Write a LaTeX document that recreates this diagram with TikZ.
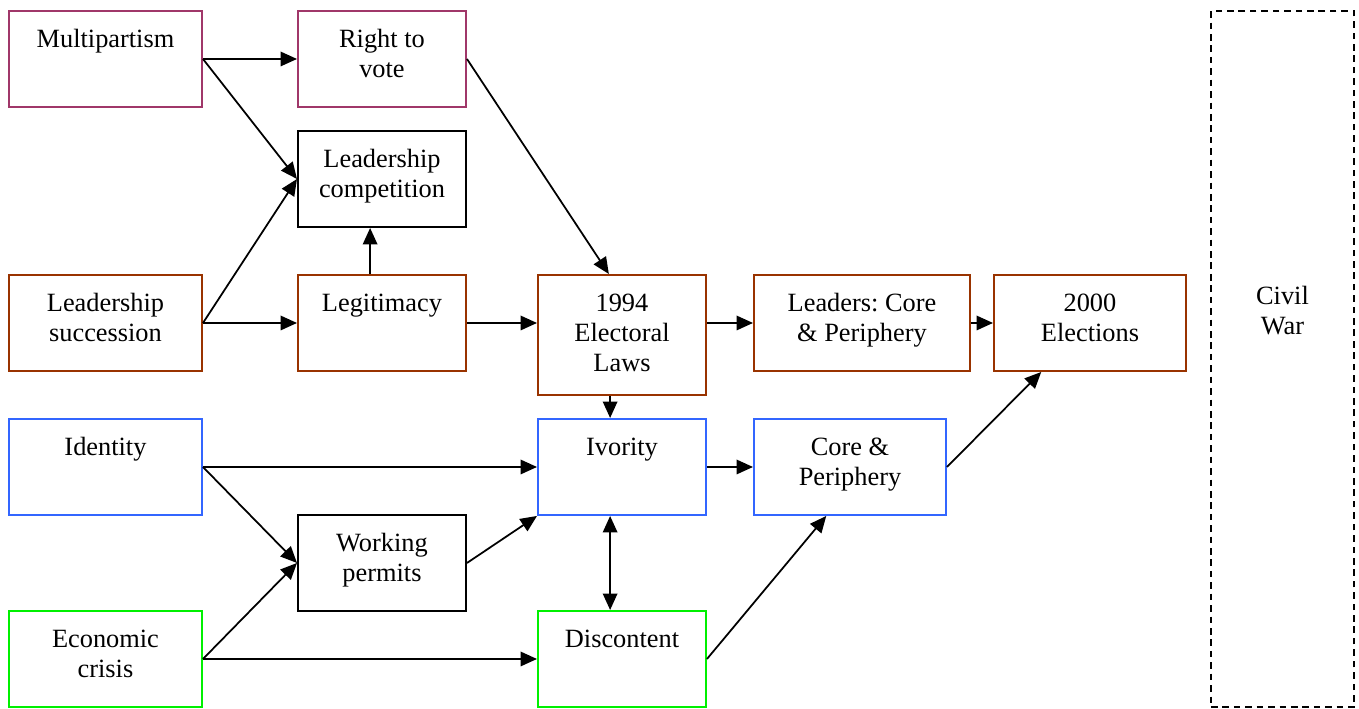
\documentclass[tikz,border=0pt]{standalone}
\usepackage{fontspec}
\setmainfont{Liberation Serif}
\usepackage{tikz}
\usetikzlibrary{arrows.meta}
\definecolor{plum}{RGB}{160,55,105}
\definecolor{rust}{RGB}{153,51,0}
\definecolor{royal}{RGB}{51,102,255}
\definecolor{lime}{RGB}{0,240,0}
\frenchspacing

\begin{document}
\begin{tikzpicture}[x=0.16mm, y=-0.16mm,
		font=\fontsize{12}{13.8}\selectfont,
		factor/.style={draw, line width=0.9pt, anchor=north west, align=center,
			inner xsep=2pt, inner ysep=0pt, text height=16.4pt, text depth=27.3pt,
			minimum height=96*0.16mm, minimum width=#1*0.16mm},
		twolines/.style={text height=30.2pt, text depth=13.5pt},
		link/.style={line width=0.8pt, -{Triangle[length=7.5pt,width=6.6pt]}}]
		    \useasboundingbox (0,0) rectangle (1359,709);

			% political column
			\node[factor=193, draw=plum] (mp) at (8,10) {Multipartism};
			\node[factor=168, draw=plum, twolines] (rv) at (297,10) {Right to\\vote};
			\node[factor=168, twolines] (lc) at (297,130) {Leadership\\competition};

			\node[factor=193, draw=rust, twolines] (ls) at (8,274) {Leadership\\succession};
			\node[factor=168, draw=rust] (leg) at (297,274) {Legitimacy};
			\node[factor=168, draw=rust, text height=44pt, text depth=10.6pt] (el) at (537,274) {1994\\Electoral\\Laws};
			\node[factor=216, draw=rust, twolines] (ld) at (753,274) {Leaders: Core\\\& Periphery};
			\node[factor=192, draw=rust, twolines] (ee) at (993,274) {2000\\Elections};

			% identity and economy
			\node[factor=193, draw=royal] (id) at (8,418) {Identity};
			\node[factor=168, draw=royal] (iv) at (537,418) {Ivority};
			\node[factor=192, draw=royal, twolines] (cp) at (753,418) {Core \&\\Periphery};
			\node[factor=168, twolines] (wp) at (297,514) {Working\\permits};
			\node[factor=193, draw=lime, twolines] (ec) at (8,610) {Economic\\crisis};
			\node[factor=168, draw=lime] (dc) at (537,610) {Discontent};

			\node[draw, line width=0.9pt, dash pattern=on 3pt off 2.2pt, anchor=north west, align=center,
				inner sep=0pt, minimum width=143*0.16mm, text height=147.2pt, text depth=169.7pt] (cw) at (1210,10) {Civil\\War};

			\draw[link] (mp.east) -- (rv.west);
			\draw[link] (mp.east) -- (lc.west);
			\draw[link] (ls.east) -- (lc.west);
			\draw[link] (ls.east) -- (leg.west);
			\draw[link] ([xshift=-1.9mm]leg.north) -- ([xshift=-1.9mm]lc.south);
			\draw[link] (rv.east) -- ([xshift=-2.1mm]el.north);
			\draw[link] (leg.east) -- (leg.east -| el.west);
			\draw[link] (ld.west -| el.east) -- (ld.west);
			\draw[link] (ld.east) -- (ee.west);
			\draw[link] ([xshift=-1.9mm]el.south) -- ([xshift=-1.9mm]iv.north);

			\draw[link] (id.east) -- (iv.west);
			\draw[link] (id.east) -- (wp.west);
			\draw[link] (ec.east) -- (wp.west);
			\draw[link] (ec.east) -- (dc.west);
			\draw[link] (wp.east) -- (iv.south west);
			\draw[link, {Triangle[length=7.5pt,width=6.6pt]}-{Triangle[length=7.5pt,width=6.6pt]}] ([xshift=-1.9mm]iv.south) -- ([xshift=-1.9mm]dc.north);
			\draw[link] (iv.east) -- (cp.west);
			\draw[link] (dc.east) -- ([xshift=-3.8mm]cp.south);
			\draw[link] (cp.east) -- ([xshift=-7.8mm]ee.south);
		  \end{tikzpicture}
\end{document}
